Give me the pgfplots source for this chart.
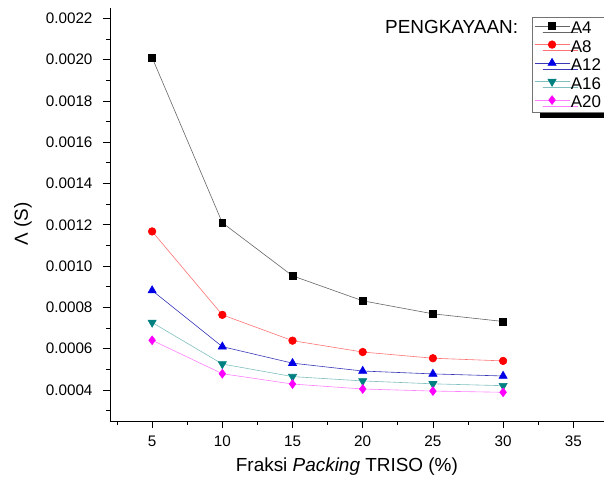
\documentclass[border=0pt]{standalone}
\usepackage{pgfplots}
\pgfplotsset{compat=1.18}
\usepackage{fontspec}
\setmainfont{Liberation Sans}
\usetikzlibrary{shadows}
\definecolor{cA4}{RGB}{0,0,0}
\definecolor{cA8}{RGB}{255,0,0}
\definecolor{cA12}{RGB}{0,0,230}
\definecolor{cA16}{RGB}{0,128,128}
\definecolor{cA20}{RGB}{255,0,255}
\begin{document}
\begin{tikzpicture}[x=1bp,y=1bp]
\path[use as bounding box] (-110,-61) rectangle (494,421);
\clip (-110,-61) rectangle (494,421);
\begin{axis}[
  scale only axis, width=533.5bp, height=413bp,
  xmin=2, xmax=40, ymin=0.00025, ymax=0.00225,
  axis x line=bottom, axis y line=left,
  axis line style={-, line width=0.9bp},
  tick style={line width=0.8bp, black},
  tick align=outside,
  major tick length=7bp, minor tick length=4bp,
  xtick={5,10,15,20,25,30,35},
  minor xtick={2.5,7.5,12.5,17.5,22.5,27.5,32.5,37.5},
  ytick={0.0004,0.0006,0.0008,0.0010,0.0012,0.0014,0.0016,0.0018,0.0020,0.0022},
  minor ytick={0.0003,0.0005,0.0007,0.0009,0.0011,0.0013,0.0015,0.0017,0.0019,0.0021},
  scaled y ticks=false,
  yticklabel style={xshift=-7bp, /pgf/number format/fixed, /pgf/number format/fixed zerofill, /pgf/number format/precision=4},
  xticklabel style={yshift=-4bp},
  /pgf/number format/assume math mode=true,
  ticklabel style={font=\fontsize{15.3}{17}\selectfont},
  xlabel={Fraksi \textit{Packing} TRISO (\%)},
  ylabel={Λ (S)},
  label style={font=\fontsize{19}{22}\selectfont},
  xlabel style={at={(axis description cs:0.444,-0.1114)}, anchor=center},
  ylabel style={at={(axis description cs:-0.1631,0.477)}, anchor=center},
  legend cell align=left,
  legend image code/.code={\draw[mark repeat=2, mark phase=2] plot coordinates {(0bp,1.5bp) (17.5bp,1.5bp) (35bp,1.5bp)};},
  legend style={at={(axis description cs:0.791,0.978)}, anchor=north west,
    font=\fontsize{17}{19}\selectfont, draw=black!55, line width=0.5bp,
    inner xsep=2bp, inner ysep=1bp, row sep=0bp, column sep=0bp,
    nodes={inner xsep=1bp, inner ysep=0bp, text height=15.3bp, text depth=3.2bp},
    drop shadow={shadow xshift=8bp, shadow yshift=-6bp, fill=black, opacity=1}},
  legend image post style={line width=0.6bp},
]
\addplot[color=black!60, line width=0.6bp, mark=square*, mark size=3.4bp, mark options={solid, fill=cA4, draw=cA4}]
  coordinates {(5,0.00201) (10,0.00121) (15,0.000953) (20,0.000832) (25,0.000769) (30,0.000732)};
\addlegendentry{A4}
\addplot[color=cA8!55, line width=0.6bp, mark=*, mark size=3.8bp, mark options={solid, fill=cA8, draw=cA8}]
  coordinates {(5,0.001168) (10,0.000764) (15,0.000639) (20,0.000584) (25,0.000554) (30,0.000541)};
\addlegendentry{A8}
\addplot[color=cA12!55!gray, line width=0.6bp, mark=triangle*, mark size=4.7bp, mark options={solid, fill=cA12, draw=cA12}]
  coordinates {(5,0.000882) (10,0.000610) (15,0.000530) (20,0.000492) (25,0.000478) (30,0.000468)};
\addlegendentry{A12}
\addplot[color=cA16!50, line width=0.6bp, mark=triangle*, mark size=4.7bp, mark options={solid, fill=cA16, draw=cA16, rotate=180}]
  coordinates {(5,0.000727) (10,0.000526) (15,0.000465) (20,0.000444) (25,0.000430) (30,0.000421)};
\addlegendentry{A16}
\addplot[color=cA20!50, line width=0.6bp, mark=diamond*, mark size=4.4bp, mark options={solid, fill=cA20, draw=cA20}]
  coordinates {(5,0.000641) (10,0.000479) (15,0.000429) (20,0.000405) (25,0.000395) (30,0.000389)};
\addlegendentry{A20}
\node[anchor=west, font=\fontsize{19}{21}\selectfont, inner sep=0pt] at (axis description cs:0.5155,0.954) {PENGKAYAAN:};
\end{axis}
\end{tikzpicture}
\end{document}
